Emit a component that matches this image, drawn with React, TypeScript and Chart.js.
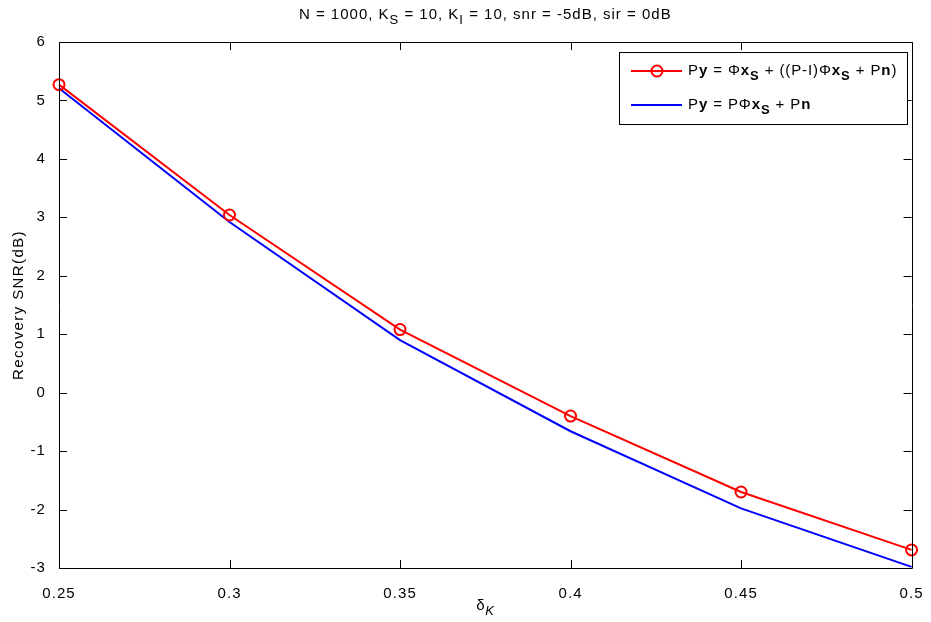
import { useEffect, useRef } from "react";
import { Chart, registerables } from "chart.js";

Chart.register(...registerables);

const deltaK = [0.25, 0.3, 0.35, 0.4, 0.45, 0.5];
const snrWithInterference = [5.27, 3.04, 1.08, -0.4, -1.7, -2.69];
const snrProjected = [5.21, 2.92, 0.9, -0.66, -1.98, -2.98];
const xTickValues = [0.25, 0.3, 0.35, 0.4, 0.45, 0.5];
const yTickValues = [-3, -2, -1, 0, 1, 2, 3, 4, 5, 6];
const xTickLabels = ["0.25", "0.3", "0.35", "0.4", "0.45", "0.5"];

const FONT = '"Liberation Sans", Arial, sans-serif';

type Seg = { t: string; b?: boolean; sub?: boolean; i?: boolean };

const titleSegs: Seg[] = [
  { t: "N = 1000, K" },
  { t: "S", sub: true },
  { t: " = 10, K" },
  { t: "I", sub: true },
  { t: " = 10, snr = -5dB, sir = 0dB" },
];

const legendRows: Seg[][] = [
  [
    { t: "P" }, { t: "y", b: true }, { t: " = Φ" }, { t: "x", b: true }, { t: "S", b: true, sub: true },
    { t: " + ((P-I)Φ" }, { t: "x", b: true }, { t: "S", b: true, sub: true }, { t: " + P" }, { t: "n", b: true }, { t: ")" },
  ],
  [
    { t: "P" }, { t: "y", b: true }, { t: " = PΦ" }, { t: "x", b: true }, { t: "S", b: true, sub: true },
    { t: " + P" }, { t: "n", b: true },
  ],
];

function segFont(s: Seg, size: number) {
  const sz = s.sub ? Math.round(size * 0.85) : size;
  return `${s.i ? "italic " : ""}${s.b ? "bold " : ""}${sz}px ${FONT}`;
}

function drawRich(ctx: CanvasRenderingContext2D, segs: Seg[], x: number, y: number, size: number, align: "left" | "center", spacing: number) {
  (ctx as any).letterSpacing = `${spacing}px`;
  let w = 0;
  for (const s of segs) {
    ctx.font = segFont(s, size);
    w += ctx.measureText(s.t).width;
  }
  let cx = align === "center" ? x - w / 2 : x;
  ctx.textAlign = "left";
  ctx.textBaseline = "middle";
  for (const s of segs) {
    ctx.font = segFont(s, size);
    ctx.fillText(s.t, cx, s.sub ? y + size * 0.38 : y);
    cx += ctx.measureText(s.t).width;
  }
}

const decorPlugin = {
  id: "matlabDecor",
  beforeDraw(chart: any) {
    (chart.ctx as any).letterSpacing = "1.1px";
  },
  afterDraw(chart: any) {
    const ctx: CanvasRenderingContext2D = chart.ctx;
    const { left, right, top, bottom } = chart.chartArea;
    const xs = chart.scales.x;
    const ys = chart.scales.y;
    ctx.save();
    ctx.strokeStyle = "#000";
    ctx.lineWidth = 1;
    ctx.beginPath();
    ctx.rect(Math.round(left) + 0.5, Math.round(top) + 0.5, Math.round(right - left), Math.round(bottom - top));
    ctx.stroke();
    const tl = 8;
    ctx.beginPath();
    for (const v of xTickValues) {
      const px = Math.round(xs.getPixelForValue(v)) + 0.5;
      ctx.moveTo(px, bottom); ctx.lineTo(px, bottom - tl);
      ctx.moveTo(px, top); ctx.lineTo(px, top + tl);
    }
    for (const v of yTickValues) {
      const py = Math.round(ys.getPixelForValue(v)) + 0.5;
      ctx.moveTo(left, py); ctx.lineTo(left + tl, py);
      ctx.moveTo(right, py); ctx.lineTo(right - tl, py);
    }
    ctx.stroke();

    // title
    ctx.fillStyle = "#000";
    drawRich(ctx, titleSegs, (left + right) / 2, 15, 15, "center", 1);

    // x axis title
    drawRich(ctx, [{ t: "δ" }, { t: "K", i: true, sub: true }], (left + right) / 2, 606, 15, "center", 0.5);

    // y axis title
    ctx.save();
    ctx.translate(19, 305);
    ctx.rotate(-Math.PI / 2);
    (ctx as any).letterSpacing = "1.4px";
    ctx.font = `15px ${FONT}`;
    ctx.textAlign = "center";
    ctx.textBaseline = "middle";
    ctx.fillText("Recovery SNR(dB)", 0, 0);
    ctx.restore();

    // legend
    const lx = 619.5, ly = 52.5, lw = 288, lh = 72;
    ctx.fillStyle = "#fff";
    ctx.fillRect(lx, ly, lw, lh);
    ctx.strokeStyle = "#000";
    ctx.lineWidth = 1;
    ctx.strokeRect(lx, ly, lw, lh);
    const rowsY = [71, 105];
    const colors = ["#ff0000", "#0000ff"];
    rowsY.forEach((ry, i) => {
      ctx.strokeStyle = colors[i];
      ctx.lineWidth = 2;
      ctx.beginPath();
      ctx.moveTo(631, ry); ctx.lineTo(682, ry);
      ctx.stroke();
      if (i === 0) {
        ctx.beginPath();
        ctx.arc(657, ry, 5.5, 0, Math.PI * 2);
        ctx.stroke();
      }
      ctx.fillStyle = "#000";
      drawRich(ctx, legendRows[i], 688, ry, 15, "left", 0.9);
    });
    ctx.restore();
  },
};

export default function App() {
  const ref = useRef<HTMLCanvasElement>(null);
  useEffect(() => {
    const canvas = ref.current!;
    const chart = new Chart(canvas, {
      type: "line",
      data: {
        datasets: [
          {
            label: "with interference",
            data: deltaK.map((x, i) => ({ x, y: snrWithInterference[i] })),
            borderColor: "#ff0000",
            borderWidth: 2,
            pointStyle: "circle",
            pointRadius: 5.5,
            pointBorderWidth: 2,
            pointBorderColor: "#ff0000",
            pointBackgroundColor: "rgba(0,0,0,0)",
            tension: 0,
            order: 1,
          },
          {
            label: "projected",
            data: deltaK.map((x, i) => ({ x, y: snrProjected[i] })),
            borderColor: "#0000ff",
            borderWidth: 2,
            pointRadius: 0,
            tension: 0,
            order: 2,
          },
        ],
      },
      options: {
        responsive: false,
        animation: false,
        devicePixelRatio: 1,
        clip: false,
        layout: { padding: { left: 0, top: 42, right: 15, bottom: 0 } },
        plugins: { legend: { display: false }, tooltip: { enabled: false }, title: { display: false } },
        scales: {
          x: {
            type: "linear",
            min: 0.25,
            max: 0.5,
            grid: { display: false },
            border: { display: false },
            afterBuildTicks: (s: any) => { s.ticks = xTickValues.map((v) => ({ value: v })); },
            afterFit: (s: any) => { s.height = 54; },
            ticks: {
              color: "#000",
              font: { family: FONT, size: 15 },
              padding: 9,
              maxRotation: 0,
              autoSkip: false,
              callback: (v: any) => { const i = xTickValues.indexOf(Number(v)); return i >= 0 ? xTickLabels[i] : ""; },
            },
          },
          y: {
            type: "linear",
            min: -3,
            max: 6,
            grid: { display: false },
            border: { display: false },
            afterBuildTicks: (s: any) => { s.ticks = yTickValues.map((v) => ({ value: v })); },
            afterFit: (s: any) => { s.width = 59; },
            ticks: {
              color: "#000",
              font: { family: FONT, size: 15 },
              padding: 5,
              autoSkip: false,
              callback: (v: any) => String(v),
            },
          },
        },
      },
      plugins: [decorPlugin],
    } as any);
    return () => chart.destroy();
  }, []);
  return (
    <div style={{ position: "absolute", left: 0, top: 0, width: 931, height: 622, background: "#fff" }}>
      <canvas ref={ref} width={931} height={622} style={{ display: "block" }} />
    </div>
  );
}
